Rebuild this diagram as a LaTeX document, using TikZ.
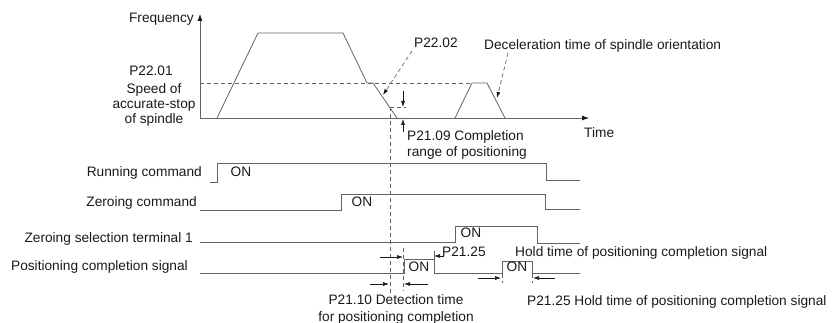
\documentclass[tikz,border=0pt]{standalone}
\usepackage{fontspec}
\setmainfont{Liberation Sans}
\usetikzlibrary{arrows.meta}
\definecolor{ln}{RGB}{100,100,100}
\definecolor{tx}{RGB}{25,25,25}
\begin{document}
\begin{tikzpicture}[x=1pt,y=-1pt,
  sig/.style={draw=ln,line width=0.8pt},
  dsh/.style={draw=ln,line width=0.7pt,dash pattern=on 4pt off 3pt},
  arr/.style={-{Latex[length=6pt,width=4pt]},draw=tx,line width=0.6pt},
  axarr/.style={-{Latex[length=7pt,width=5pt,color=tx]},draw=ln,line width=0.8pt},
  lbl/.style={text=tx,inner sep=0pt,font=\fontsize{13.7}{15.5}\selectfont}]
\useasboundingbox (0,0) rectangle (838,323);

% ---------- frequency chart ----------
\coordinate (O) at (200,118);
\coordinate (Ytop) at (200,14);
\coordinate (Xend) at (589,118);
\draw[axarr] (O) -- (Ytop);
\draw[axarr] (O) -- (Xend);
\node[lbl,anchor=base east] (freq) at (194,23) {Frequency};
\node[lbl,anchor=base west] (time) at (584,138) {Time};

\draw[sig] (217,118) -- (258,33) -- (343,33) -- (367,83) -- (373,83) -- (397,118);
\draw[sig] (455,118) -- (472,83) -- (487,83) -- (505,118);

\coordinate (dl) at (200,83);
\coordinate (dr) at (472,83);
\draw[dsh] (dl) -- (dr);
\coordinate (s1) at (390,107);
\coordinate (s2) at (406,107);
\draw[dsh] (s1) -- (s2);
\coordinate (vb) at (390,293);
\draw[dsh] (s1) -- (vb);

\coordinate (a1s) at (403,91);
\coordinate (a1e) at (403,107);
\draw[arr] (a1s) -- (a1e);
\coordinate (a2s) at (403,132);
\coordinate (a2e) at (403,119);
\draw[arr] (a2s) -- (a2e);

\node[lbl,anchor=base west] (p2202) at (414,48) {P22.02};
\coordinate (p2202l) at (412,51);
\coordinate (p2202t) at (383,95);
\draw[dsh,-{Latex[length=6pt,width=4pt,color=tx]}] (p2202l) -- (p2202t);

\node[lbl,anchor=base west] (dec) at (484,50) {Deceleration time of spindle orientation};
\coordinate (decl) at (508,53);
\coordinate (dect) at (497,98);
\draw[dsh,-{Latex[length=6pt,width=4pt,color=tx]}] (decl) -- (dect);

\node[lbl,anchor=base] (p2201) at (151,76) {P22.01};
\node[lbl,anchor=north,align=center,font=\fontsize{13.7}{15}\selectfont] (speed) at (154,83.5)
  {Speed of\\accurate-stop\\of spindle};

\node[lbl,anchor=north west,align=left,font=\fontsize{13.7}{16}\selectfont] (p2109) at (407,130.5)
  {P21.09 Completion\\range of positioning};

% ---------- timing chart ----------
\node[lbl,anchor=base east] (run) at (202,177) {Running command};
\draw[sig] (210,182) -- (217,182) -- (217,163) -- (546,163) -- (546,180) -- (580,180);
\node[lbl,anchor=base] (on1) at (241,177) {ON};

\node[lbl,anchor=base east] (zc) at (197,207) {Zeroing command};
\draw[sig] (200,210) -- (341,210) -- (341,194) -- (545,194) -- (545,209) -- (580,209);
\node[lbl,anchor=base] (on2) at (362,207) {ON};

\node[lbl,anchor=base east] (zs) at (193,243) {Zeroing selection terminal 1};
\draw[sig] (200,242) -- (455,242) -- (455,226) -- (537,226) -- (537,243) -- (580,243);
\node[lbl,anchor=base] (on3) at (471,238) {ON};

\node[lbl,anchor=base east] (pc) at (188,270) {Positioning completion signal};
\draw[sig] (200,273) -- (404,273) -- (404,259) -- (434,259) -- (434,273) -- (502,273)
  -- (502,261) -- (532,261) -- (532,273) -- (580,273);
\node[lbl,anchor=base] (on4) at (419,271) {ON};
\node[lbl,anchor=base] (on5) at (517,272) {ON};

% markers and arrows
\coordinate (t1) at (403,248);
\coordinate (t2) at (403,291);
\draw[dsh] (t1) -- (t2);
\coordinate (m1) at (434,251);
\coordinate (m2) at (434,259);
\draw[sig] (m1) -- (m2);

\coordinate (h1s) at (380,257);
\coordinate (h1e) at (403,257);
\draw[arr] (h1s) -- (h1e);
\coordinate (h2s) at (444,256);
\coordinate (h2e) at (434,256);
\draw[arr] (h2s) -- (h2e);
\node[lbl,anchor=base west] (p2125a) at (442,257) {P21.25};
\node[lbl,anchor=base west] (hold) at (515,257) {Hold time of positioning completion signal};

\coordinate (d1s) at (370,284);
\coordinate (d1e) at (389,284);
\draw[arr] (d1s) -- (d1e);
\coordinate (d2s) at (428,284);
\coordinate (d2e) at (404,284);
\draw[arr] (d2s) -- (d2e);
\node[lbl,anchor=north,align=center,font=\fontsize{13.7}{17}\selectfont] (p2110) at (396,294.5)
  {P21.10 Detection time\\for positioning completion};

\coordinate (k1) at (502,274);
\coordinate (k1b) at (502,283);
\draw[dsh] (k1) -- (k1b);
\coordinate (k2) at (532,274);
\coordinate (k2b) at (532,283);
\draw[dsh] (k2) -- (k2b);
\coordinate (e1s) at (478,278);
\coordinate (e1e) at (501,278);
\draw[arr] (e1s) -- (e1e);
\coordinate (e2s) at (555,278);
\coordinate (e2e) at (533,278);
\draw[arr] (e2s) -- (e2e);
\node[lbl,anchor=base west] (p2125b) at (527,305) {P21.25 Hold time of positioning completion signal};
\end{tikzpicture}
\end{document}
